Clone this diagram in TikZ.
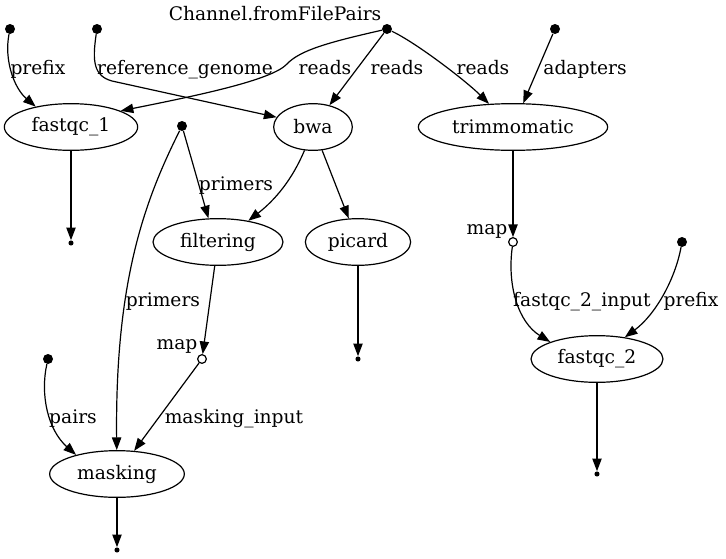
\documentclass[tikz,border=0pt]{standalone}
\usepackage{fontspec}
\setmainfont{DejaVu Serif}
\usetikzlibrary{arrows.meta, shapes.geometric}

\begin{document}
\begin{tikzpicture}[
  x=0.75pt, y=-0.75pt,
  font=\fontsize{14}{16}\selectfont,
  >={Triangle[length=9.5pt, width=7pt]},
  proc/.style={ellipse, draw, line width=0.9pt, minimum width=#1,
               minimum height=35pt, inner sep=0pt},
  src/.style={circle, fill, inner sep=0pt, minimum size=7.5pt},
  sink/.style={circle, fill, inner sep=0pt, minimum size=3.8pt},
  mapop/.style={circle, draw, line width=0.9pt, fill=white,
                inner sep=0pt, minimum size=6.5pt},
  lbl/.style={anchor=base, inner sep=0pt},
  flow/.style={->, line width=0.9pt},
]
\useasboundingbox (0,0) rectangle (726,558);

% ---------- processes ----------
\node[proc=100pt]  (fastqc1)   at (71,127)  {fastqc\_1};
\node[proc=59pt]   (bwa)       at (313,127) {bwa};
\node[proc=142pt]  (trim)      at (513,127) {trimmomatic};
\node[proc=97.5pt] (filtering) at (218,242) {filtering};
\node[proc=79pt]   (picard)    at (358,242) {picard};
\node[proc=101pt]  (masking)   at (117,474) {masking};
\node[proc=99pt]   (fastqc2)   at (597,359) {fastqc\_2};

% ---------- sources ----------
\node[src] (pre1)  at (10,29)   {};
\node[src] (refg)  at (97,29)   {};
\node[src] (chan)  at (387,29)  {};
\node[src] (adapt) at (555,29)  {};
\node[src] (prim)  at (182,126) {};
\node[src] (pre2)  at (682,242) {};
\node[src] (pairs) at (48,359)  {};
\node[lbl] (chanlbl) at (275,20) {Channel.fromFilePairs};

% ---------- operators ----------
\node[mapop] (map1) at (513,242) {};
\node[mapop] (map2) at (202,359) {};
\node[lbl] (map1lbl) at (487,234) {map};
\node[lbl] (map2lbl) at (177,349) {map};

% ---------- sinks ----------
\node[sink] (out1) at (71,243)  {};
\node[sink] (out2) at (358,359) {};
\node[sink] (out3) at (117,550) {};
\node[sink] (out4) at (597,474) {};

% ---------- channels ----------
\draw[flow] (pre1) .. controls (4,60) and (14,88) .. (fastqc1.150)
      node[lbl] at (38,74) {prefix};
\draw[flow] (refg) .. controls (92,62) and (94,76) .. (112,81) -- (bwa.165)
      node[lbl] at (185,74) {reference\_genome};
\draw[flow] (chan) .. controls (330,42) and (300,50) .. (287,64)
      .. controls (272,80) and (200,95) .. (fastqc1.18)
      node[lbl] at (325,74) {reads};
\draw[flow] (chan) -- (bwa) node[lbl] at (397,74) {reads};
\draw[flow] (chan) .. controls (415,42) and (465,80) .. (trim.136)
      node[lbl] at (483,74) {reads};
\draw[flow] (adapt) -- (trim) node[lbl] at (585,74) {adapters};

\draw[flow] (fastqc1) -- (out1);
\draw[flow] (prim) -- (filtering.112) node[lbl] at (236,190) {primers};
\draw[flow] (prim) .. controls (145,200) and (115,280) .. (masking)
      node[lbl] at (163,306) {primers};
\draw[flow] (bwa.-110) .. controls (292,180) and (275,200) .. (filtering.35);
\draw[flow] (bwa) -- (picard);
\draw[flow] (trim) -- (map1);

\draw[flow] (filtering) -- (map2);
\draw[flow] (picard) -- (out2);
\draw[flow] (map1) .. controls (507,285) and (518,322) .. (fastqc2.160)
      node[lbl] at (582,306) {fastqc\_2\_input};
\draw[flow] (pre2) .. controls (675,280) and (655,315) .. (fastqc2.38)
      node[lbl] at (691,306) {prefix};

\draw[flow] (map2) -- (masking) node[lbl] at (234,423) {masking\_input};
\draw[flow] (pairs) .. controls (40,395) and (48,430) .. (masking.155)
      node[lbl] at (73,423) {pairs};
\draw[flow] (masking) -- (out3);
\draw[flow] (fastqc2) -- (out4);

\end{tikzpicture}
\end{document}
